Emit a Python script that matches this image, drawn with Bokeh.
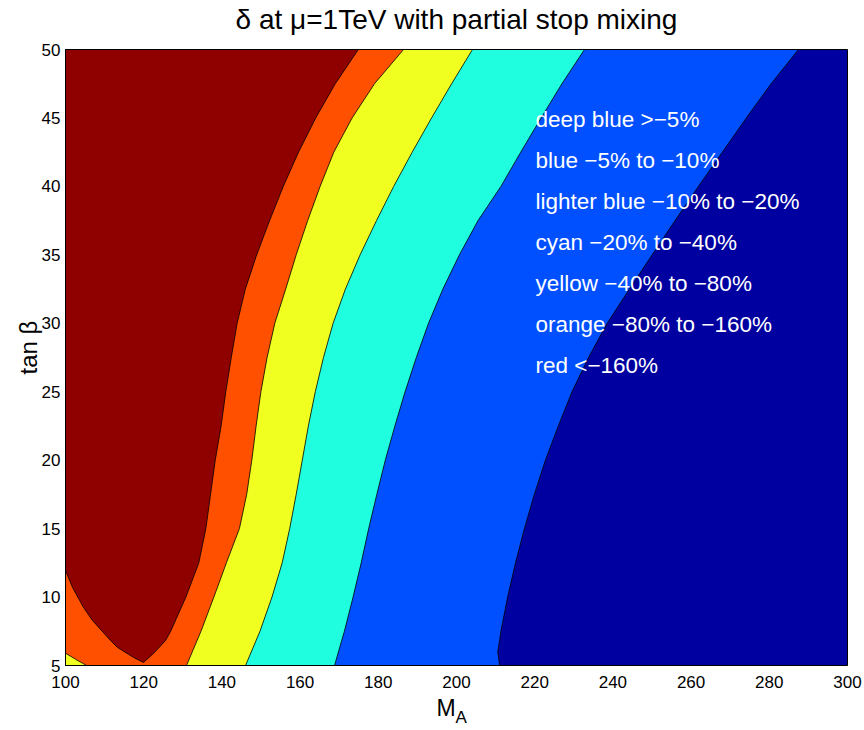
from math import pi
from bokeh.plotting import figure
from bokeh.models import Label, FixedTicker, Range1d
from bokeh.embed import file_html
from bokeh.resources import INLINE

# ---------------- data ----------------
ma_range = [100, 300]
tanb_range = [5, 50]
x_ticks = [100, 120, 140, 160, 180, 200, 220, 240, 260, 280, 300]
y_ticks = [5, 10, 15, 20, 25, 30, 35, 40, 45, 50]

# red (< -160%) region: left branch (from the left edge down to the tip)
red_left_ma = [100.0, 101.8, 104.6, 106.9, 111.5, 113.3, 117.4, 119.95]
red_left_tanb = [11.94, 10.7, 9.24, 8.29, 6.83, 6.32, 5.59, 5.22]
# red region: right branch (from the tip up to the top edge)
red_right_ma = [122.5, 125.6, 126.9, 130.8, 134.1, 135.9, 137.1, 138.3, 139.8, 141.0,
                142.4, 143.9, 146.0, 148.9, 152.2, 155.7, 159.6, 164.0, 169.0, 174.9]
red_right_tanb = [5.88, 6.83, 7.5, 10.0, 12.5, 15.0, 17.5, 20.0, 22.5, 25.0,
                  27.5, 30.0, 32.5, 35.0, 37.5, 40.0, 42.5, 45.0, 47.5, 50.0]

# contour boundaries sampled at these tan(beta) values (top to bottom)
tanb_levels = [50.0, 47.5, 45.0, 42.5, 40.0, 37.5, 35.0, 32.5, 30.0, 27.5,
               25.0, 22.5, 20.0, 17.5, 15.0, 12.5, 10.0, 7.5, 5.0]
orange_yellow_ma = [186.45, 179.03, 173.30, 168.62, 165.12, 161.94, 159.00, 156.32, 153.53, 151.56,
                    149.97, 148.75, 147.65, 146.34, 144.48, 141.15, 137.95, 134.65, 130.95]
yellow_cyan_ma = [204.09, 198.75, 193.63, 188.67, 183.94, 179.54, 175.35, 171.59, 168.44, 165.98,
                  163.89, 162.12, 160.56, 159.00, 157.34, 155.42, 152.81, 149.74, 146.04]
cyan_blue_ma = [232.74, 226.96, 221.64, 216.42, 211.36, 205.50, 200.74, 196.52, 192.84, 189.72,
                186.85, 184.25, 181.79, 179.62, 177.54, 175.63, 173.55, 171.33, 168.80]

# blue / deep blue boundary (bends back slightly near the bottom)
blue_deep_tanb = [50.0, 47.5, 45.0, 42.5, 40.0, 37.5, 35.0, 32.5, 30.0, 27.5,
                  25.0, 22.5, 20.0, 17.5, 15.0, 12.5, 10.0, 7.5, 6.0, 5.0]
blue_deep_ma = [287.47, 280.46, 274.12, 267.98, 261.87, 255.88, 250.03, 244.22, 238.54, 233.76,
                229.54, 226.04, 222.74, 219.90, 217.37, 215.09, 213.07, 211.36, 210.56, 211.00]

# small yellow corner at the bottom-left
corner_ma = [100.0, 102.6, 105.4]
corner_tanb = [5.9, 5.45, 5.0]

legend_lines = [
    "deep blue >\u22125%",
    "blue \u22125% to \u221210%",
    "lighter blue \u221210% to \u221220%",
    "cyan \u221220% to \u221240%",
    "yellow \u221240% to \u221280%",
    "orange \u221280% to \u2212160%",
    "red <\u2212160%",
]

colors = {
    "deep": "#0000A0",
    "blue": "#0050FF",
    "cyan": "#1FFFE0",
    "yellow": "#F0FF1F",
    "orange": "#FF5000",
    "red": "#8F0000",
}

FONT = "Liberation Sans"

# ---------------- layout ----------------
W, H = 864, 730
FL, FT, FW, FH = 65, 49, 782, 616      # data area inside the canvas (pixels)
x0, x1 = ma_range
y0, y1 = tanb_range
kx = (x1 - x0) / FW
ky = (y1 - y0) / FH

def px2x(px):
    return x0 + (px - FL) * kx

def py2y(py):
    return y1 - (py - FT) * ky

p = figure(width=W, height=H,
           x_range=Range1d(px2x(0), px2x(W)), y_range=Range1d(py2y(H), py2y(0)),
           output_backend="svg", toolbar_location=None, title=None, min_border=0)
p.xgrid.visible = False
p.ygrid.visible = False
p.outline_line_color = None
p.background_fill_color = "white"
p.border_fill_color = "white"

LW = 0.8
# deep blue background of the data area
p.quad(left=[x0], right=[x1], bottom=[y0], top=[y1], fill_color=colors["deep"], line_color=None)

def left_region(b_ma, b_tanb, color):
    xs = [x0] + list(b_ma) + [x0]
    ys = [y1] + list(b_tanb) + [y0]
    p.patch(xs, ys, fill_color=color, line_color="black", line_width=LW, line_join="round")

left_region(blue_deep_ma, blue_deep_tanb, colors["blue"])
left_region(cyan_blue_ma, tanb_levels, colors["cyan"])
left_region(yellow_cyan_ma, tanb_levels, colors["yellow"])
left_region(orange_yellow_ma, tanb_levels, colors["orange"])

# yellow corner
p.patch([x0] + corner_ma, [y0] + corner_tanb, fill_color=colors["yellow"],
        line_color="black", line_width=LW)

# red region
rx = [x0] + red_left_ma + red_right_ma
ry = [y1] + red_left_tanb + red_right_tanb
p.patch(rx, ry, fill_color=colors["red"], line_color="black", line_width=LW, line_join="round")

# box around the data area
p.quad(left=[x0], right=[x1], bottom=[y0], top=[y1], fill_color=None, line_color="black", line_width=1)

# axes fixed at the data-area edges
p.xaxis.fixed_location = y0
p.yaxis.fixed_location = x0
for ax in (p.xaxis, p.yaxis):
    ax.major_tick_in = 0
    ax.major_tick_out = 0
    ax.minor_tick_in = 0
    ax.minor_tick_out = 0
    ax.axis_line_color = None
    ax.major_label_text_font = FONT
    ax.major_label_text_font_size = "17px"
    ax.major_label_text_color = "black"
p.xaxis.ticker = FixedTicker(ticks=x_ticks)
p.yaxis.ticker = FixedTicker(ticks=y_ticks)
p.xaxis.major_label_standoff = 10
p.yaxis.major_label_standoff = 5

# title
p.add_layout(Label(x=px2x(456), y=py2y(19), text="\u03b4 at \u03bc=1TeV with partial stop mixing",
                   text_align="center", text_baseline="alphabetic", text_font=FONT,
                   text_font_size="28px", text_color="black"))
# x label M_A
p.add_layout(Label(x=px2x(436), y=py2y(707), text="M", text_align="left", text_baseline="alphabetic",
                   text_font=FONT, text_font_size="23px", text_color="black"))
p.add_layout(Label(x=px2x(455), y=py2y(717), text="A", text_align="left", text_baseline="alphabetic",
                   text_font=FONT, text_font_size="17px", text_color="black"))
# y label
p.add_layout(Label(x=px2x(28), y=py2y(347), text="tan \u03b2", angle=pi / 2,
                   text_align="center", text_baseline="middle",
                   text_font=FONT, text_font_size="24px", text_color="black"))

# legend text
for i, t in enumerate(legend_lines):
    p.add_layout(Label(x=px2x(535), y=py2y(119 + 41 * i), text=t, text_align="left",
                       text_baseline="alphabetic", text_font=FONT, text_font_size="22.5px",
                       text_color="white"))

open("out.html", "w").write(file_html(p, INLINE))
